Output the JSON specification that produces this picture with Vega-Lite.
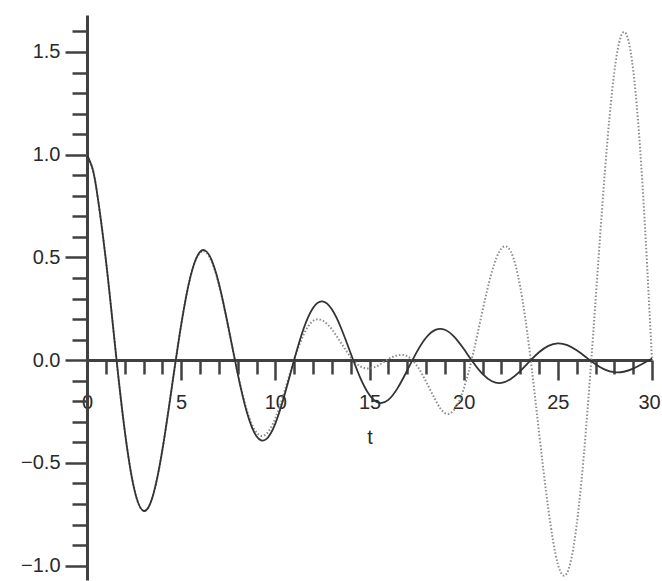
{
  "$schema": "https://vega.github.io/schema/vega-lite/v6.json",
  "width": 565,
  "height": 565,
  "autosize": {"type": "none"},
  "padding": {"left": 87, "top": 15, "right": 10, "bottom": 1},
  "background": "white",
  "config": {"view": {"stroke": null}, "font": "Liberation Sans"},
  "data": {"values": [
    {"series": "exact", "t": 0, "y": 1.0},
    {"series": "exact", "t": 0.25, "y": 0.945},
    {"series": "exact", "t": 0.5, "y": 0.8348},
    {"series": "exact", "t": 1, "y": 0.4889},
    {"series": "exact", "t": 1.5, "y": 0.0609},
    {"series": "exact", "t": 2, "y": -0.3407},
    {"series": "exact", "t": 2.5, "y": -0.6239},
    {"series": "exact", "t": 3, "y": -0.7334},
    {"series": "exact", "t": 3.5, "y": -0.6599},
    {"series": "exact", "t": 4, "y": -0.4381},
    {"series": "exact", "t": 4.5, "y": -0.1344},
    {"series": "exact", "t": 5, "y": 0.172},
    {"series": "exact", "t": 5.5, "y": 0.4089},
    {"series": "exact", "t": 6, "y": 0.527},
    {"series": "exact", "t": 6.5, "y": 0.5098},
    {"series": "exact", "t": 7, "y": 0.3744},
    {"series": "exact", "t": 7.5, "y": 0.1637},
    {"series": "exact", "t": 8, "y": -0.0654},
    {"series": "exact", "t": 8.5, "y": -0.2573},
    {"series": "exact", "t": 9, "y": -0.3704},
    {"series": "exact", "t": 9.5, "y": -0.3856},
    {"series": "exact", "t": 10, "y": -0.3087},
    {"series": "exact", "t": 10.5, "y": -0.1664},
    {"series": "exact", "t": 11, "y": 0.0015},
    {"series": "exact", "t": 11.5, "y": 0.153},
    {"series": "exact", "t": 12, "y": 0.2542},
    {"series": "exact", "t": 12.5, "y": 0.2859},
    {"series": "exact", "t": 13, "y": 0.2473},
    {"series": "exact", "t": 13.5, "y": 0.1542},
    {"series": "exact", "t": 14, "y": 0.0337},
    {"series": "exact", "t": 14.5, "y": -0.0833},
    {"series": "exact", "t": 15, "y": -0.1695},
    {"series": "exact", "t": 15.5, "y": -0.2077},
    {"series": "exact", "t": 16, "y": -0.1934},
    {"series": "exact", "t": 16.5, "y": -0.1349},
    {"series": "exact", "t": 17, "y": -0.0503},
    {"series": "exact", "t": 17.5, "y": 0.0381},
    {"series": "exact", "t": 18, "y": 0.1092},
    {"series": "exact", "t": 18.5, "y": 0.1477},
    {"series": "exact", "t": 19, "y": 0.1479},
    {"series": "exact", "t": 19.5, "y": 0.1132},
    {"series": "exact", "t": 20, "y": 0.0552},
    {"series": "exact", "t": 20.5, "y": -0.0102},
    {"series": "exact", "t": 21, "y": -0.0671},
    {"series": "exact", "t": 21.5, "y": -0.1027},
    {"series": "exact", "t": 22, "y": -0.1108},
    {"series": "exact", "t": 22.5, "y": -0.092},
    {"series": "exact", "t": 23, "y": -0.0534},
    {"series": "exact", "t": 23.5, "y": -0.0059},
    {"series": "exact", "t": 24, "y": 0.0385},
    {"series": "exact", "t": 24.5, "y": 0.0696},
    {"series": "exact", "t": 25, "y": 0.0814},
    {"series": "exact", "t": 25.5, "y": 0.0729},
    {"series": "exact", "t": 26, "y": 0.048},
    {"series": "exact", "t": 26.5, "y": 0.0143},
    {"series": "exact", "t": 27, "y": -0.0196},
    {"series": "exact", "t": 27.5, "y": -0.0457},
    {"series": "exact", "t": 28, "y": -0.0585},
    {"series": "exact", "t": 28.5, "y": -0.0564},
    {"series": "exact", "t": 29, "y": -0.0412},
    {"series": "exact", "t": 29.5, "y": -0.0177},
    {"series": "exact", "t": 30, "y": 0.0077},
    {"series": "approx", "t": 0, "y": 1.0},
    {"series": "approx", "t": 0.25, "y": 0.945},
    {"series": "approx", "t": 0.5, "y": 0.8348},
    {"series": "approx", "t": 1, "y": 0.4889},
    {"series": "approx", "t": 1.5, "y": 0.0609},
    {"series": "approx", "t": 2, "y": -0.3407},
    {"series": "approx", "t": 2.5, "y": -0.6239},
    {"series": "approx", "t": 3, "y": -0.7334},
    {"series": "approx", "t": 3.5, "y": -0.6599},
    {"series": "approx", "t": 4, "y": -0.4381},
    {"series": "approx", "t": 4.5, "y": -0.1344},
    {"series": "approx", "t": 5, "y": 0.172},
    {"series": "approx", "t": 5.5, "y": 0.4089},
    {"series": "approx", "t": 6, "y": 0.5221},
    {"series": "approx", "t": 6.5, "y": 0.5033},
    {"series": "approx", "t": 7, "y": 0.3681},
    {"series": "approx", "t": 7.5, "y": 0.1601},
    {"series": "approx", "t": 8, "y": -0.0635},
    {"series": "approx", "t": 8.5, "y": -0.2475},
    {"series": "approx", "t": 9, "y": -0.3521},
    {"series": "approx", "t": 9.5, "y": -0.3606},
    {"series": "approx", "t": 10, "y": -0.2825},
    {"series": "approx", "t": 10.5, "y": -0.1479},
    {"series": "approx", "t": 11, "y": 0.0013},
    {"series": "approx", "t": 11.5, "y": 0.124},
    {"series": "approx", "t": 12, "y": 0.1911},
    {"series": "approx", "t": 12.5, "y": 0.193},
    {"series": "approx", "t": 13, "y": 0.1502},
    {"series": "approx", "t": 13.5, "y": 0.0826},
    {"series": "approx", "t": 14, "y": 0.0152},
    {"series": "approx", "t": 14.5, "y": -0.0291},
    {"series": "approx", "t": 15, "y": -0.0401},
    {"series": "approx", "t": 15.5, "y": -0.0236},
    {"series": "approx", "t": 16, "y": 0.0052},
    {"series": "approx", "t": 16.5, "y": 0.0239},
    {"series": "approx", "t": 17, "y": 0.0193},
    {"series": "approx", "t": 17.5, "y": -0.0246},
    {"series": "approx", "t": 18, "y": -0.1037},
    {"series": "approx", "t": 18.5, "y": -0.1938},
    {"series": "approx", "t": 19, "y": -0.2577},
    {"series": "approx", "t": 19.5, "y": -0.2405},
    {"series": "approx", "t": 20, "y": -0.1407},
    {"series": "approx", "t": 20.5, "y": 0.0311},
    {"series": "approx", "t": 21, "y": 0.2398},
    {"series": "approx", "t": 21.5, "y": 0.4311},
    {"series": "approx", "t": 22, "y": 0.543},
    {"series": "approx", "t": 22.5, "y": 0.5283},
    {"series": "approx", "t": 23, "y": 0.3587},
    {"series": "approx", "t": 23.5, "y": 0.0462},
    {"series": "approx", "t": 24, "y": -0.3503},
    {"series": "approx", "t": 24.5, "y": -0.7277},
    {"series": "approx", "t": 25, "y": -0.9916},
    {"series": "approx", "t": 25.5, "y": -1.0341},
    {"series": "approx", "t": 26, "y": -0.8012},
    {"series": "approx", "t": 26.5, "y": -0.3317},
    {"series": "approx", "t": 27, "y": 0.2868},
    {"series": "approx", "t": 27.5, "y": 0.9179},
    {"series": "approx", "t": 28, "y": 1.4028},
    {"series": "approx", "t": 28.5, "y": 1.598},
    {"series": "approx", "t": 29, "y": 1.4131},
    {"series": "approx", "t": 29.5, "y": 0.8479},
    {"series": "approx", "t": 30, "y": -0.0019}
  ]},
  "encoding": {
    "x": {
      "field": "t", "type": "quantitative",
      "scale": {"domain": [0, 30], "nice": false, "zero": false},
      "axis": {
        "title": "t", "orient": "bottom", "offset": -220, "grid": false,
        "values": [0,1,2,3,4,5,6,7,8,9,10,11,12,13,14,15,16,17,18,19,20,21,22,23,24,25,26,27,28,29,30],
        "labelExpr": "datum.value % 5 === 0 ? datum.label : ''",
        "tickSize": {"condition": {"test": "datum.value % 5 === 0", "value": 20}, "value": 14},
        "tickWidth": 2.5, "tickColor": "#404040",
        "domainColor": "#404040", "domainWidth": 3,
        "labelFontSize": 20, "labelColor": "#2a2a2a", "labelPadding": 12,
        "labelOffset": {"condition": {"test": "datum.value === 30", "value": -3}, "value": 0},
        "labelOverlap": false, "labelFlush": false, "labelBound": false,
        "titleFontSize": 20, "titleFontWeight": "normal", "titleColor": "#2a2a2a", "titlePadding": 15
      }
    },
    "y": {
      "field": "y", "type": "quantitative",
      "scale": {"domain": [-1.07, 1.68], "nice": false, "zero": false},
      "axis": {
        "title": null, "grid": false,
        "values": [-1.0,-0.9,-0.8,-0.7,-0.6,-0.5,-0.4,-0.3,-0.2,-0.1,0,0.1,0.2,0.3,0.4,0.5,0.6,0.7,0.8,0.9,1.0,1.1,1.2,1.3,1.4,1.5,1.6],
        "labelExpr": "abs(datum.value*2 - round(datum.value*2)) < 0.001 ? format(datum.value, '.1f') : ''",
        "tickSize": {"condition": {"test": "abs(datum.value*2 - round(datum.value*2)) < 0.001", "value": 22}, "value": 15},
        "tickWidth": 2.5, "tickColor": "#404040",
        "domainColor": "#404040", "domainWidth": 3,
        "labelFontSize": 20, "labelColor": "#2a2a2a", "labelPadding": 5,
        "labelOverlap": false, "labelFlush": false, "labelBound": false
      }
    }
  },
  "layer": [
    {
      "transform": [{"filter": "datum.series === 'approx'"}],
      "mark": {"type": "line", "interpolate": "natural", "color": "#8c8c8c", "strokeWidth": 2, "strokeDash": [1.5, 2]}
    },
    {
      "transform": [{"filter": "datum.series === 'exact'"}],
      "mark": {"type": "line", "interpolate": "natural", "color": "#333333", "strokeWidth": 1.8}
    }
  ]
}
